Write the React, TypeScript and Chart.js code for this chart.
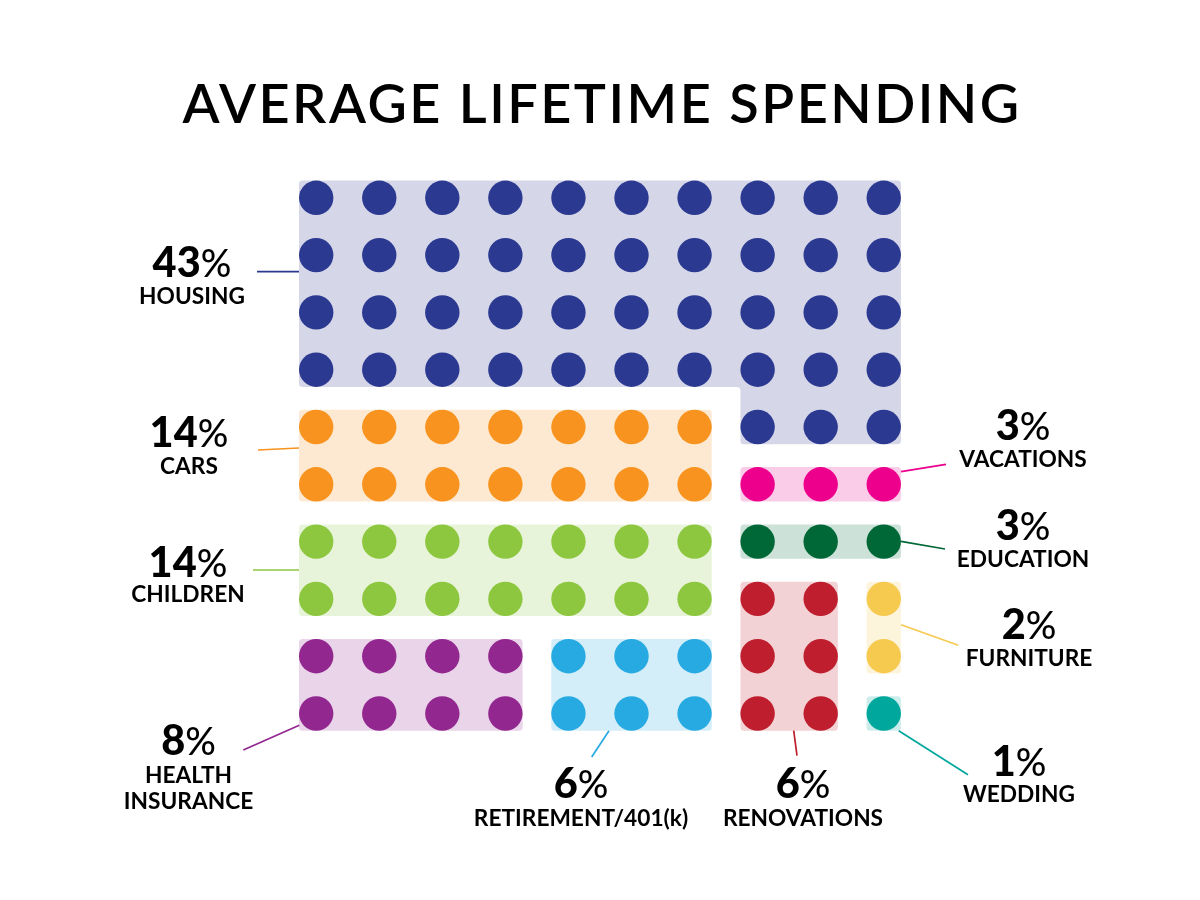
import React, { useEffect, useRef } from 'react';
import { Chart, registerables } from 'chart.js';

Chart.register(...registerables);

const chartTitle = 'AVERAGE LIFETIME SPENDING';

const categories = [
  'HOUSING',
  'CARS',
  'CHILDREN',
  'VACATIONS',
  'EDUCATION',
  'RENOVATIONS',
  'FURNITURE',
  'HEALTH INSURANCE',
  'RETIREMENT/401(k)',
  'WEDDING',
];
const shares = [43, 14, 14, 3, 3, 6, 2, 8, 6, 1];
const dotColours = [
  '#2b3990',
  '#f7931e',
  '#8dc63f',
  '#ec008c',
  '#006837',
  '#be1e2d',
  '#f6c94f',
  '#92278f',
  '#27aae1',
  '#00a79d',
];

// one row of the waffle per line, each number is an index into categories
const waffleRows = [
  [0, 0, 0, 0, 0, 0, 0, 0, 0, 0],
  [0, 0, 0, 0, 0, 0, 0, 0, 0, 0],
  [0, 0, 0, 0, 0, 0, 0, 0, 0, 0],
  [0, 0, 0, 0, 0, 0, 0, 0, 0, 0],
  [1, 1, 1, 1, 1, 1, 1, 0, 0, 0],
  [1, 1, 1, 1, 1, 1, 1, 3, 3, 3],
  [2, 2, 2, 2, 2, 2, 2, 4, 4, 4],
  [2, 2, 2, 2, 2, 2, 2, 5, 5, 6],
  [7, 7, 7, 7, 8, 8, 8, 5, 5, 6],
  [7, 7, 7, 7, 8, 8, 8, 5, 5, 9],
];

const COL0 = 316.2;
const COL_STEP = 63.06;
const ROW0 = 197.8;
const ROW_STEP = 57.3;
const DOT_R = 17.2;
const CORNER = 3.5;

const FONT = 'Lato, "Open Sans", sans-serif';

// label layout, same order as categories: centre x, baseline of the %, baselines of the name
const labelLayout = [
  { x: 192, pct: 276.5, names: [304] },
  { x: 189, pct: 447, names: [474] },
  { x: 188, pct: 576.5, names: [602] },
  { x: 1023, pct: 440, names: [466.5] },
  { x: 1023, pct: 540, names: [566.5] },
  { x: 803, pct: 798, names: [825.5] },
  { x: 1029, pct: 639, names: [665.5] },
  { x: 188.5, pct: 755, names: [782.5, 809] },
  { x: 581, pct: 798, names: [825.5] },
  { x: 1019, pct: 775.5, names: [802] },
];

// leader lines, same order as categories
const leaderLines = [
  [257, 271.7, 299, 271.7],
  [258, 450, 299, 448],
  [253, 570, 299, 570],
  [901, 471.7, 946, 464.3],
  [901, 541.3, 945, 549],
  [793.7, 730.7, 797, 755.7],
  [901, 624.7, 958.3, 645.3],
  [243.3, 750, 299.3, 725.3],
  [609, 730.7, 591.7, 757],
  [898.7, 730.7, 968, 774.7],
];

const cellsOf = (cat: number) => {
  const cells: { x: number; y: number }[] = [];
  waffleRows.forEach((row, y) =>
    row.forEach((c, x) => {
      if (c === cat) cells.push({ x, y });
    }),
  );
  return cells;
};

// column span of a category in a row, or null
const spanOf = (cat: number, r: number) => {
  const row = waffleRows[r];
  if (!row || !row.includes(cat)) return null;
  return [row.indexOf(cat), row.lastIndexOf(cat)];
};

const tilePlugin = {
  id: 'tiles',
  beforeDatasetsDraw(chart: any) {
    const { ctx, scales } = chart;
    categories.forEach((_, cat) => {
      ctx.save();
      ctx.globalAlpha = 0.2;
      ctx.fillStyle = dotColours[cat];
      ctx.beginPath();
      let r = 0;
      let joined = false;
      while (r < waffleRows.length) {
        const span = spanOf(cat, r);
        if (!span) {
          r++;
          joined = false;
          continue;
        }
        let end = r;
        while (String(spanOf(cat, end + 1)) === String(span)) end++;
        const left = scales.x.getPixelForValue(span[0]) - DOT_R;
        const right = scales.x.getPixelForValue(span[1]) + DOT_R;
        const top = scales.y.getPixelForValue(r) - DOT_R - (joined ? ROW_STEP : 0);
        const bottom = scales.y.getPixelForValue(end) + DOT_R;
        ctx.roundRect(left, top, right - left, bottom - top, CORNER);
        if (joined) {
          // rounded inner corner where the narrower block hangs off the wider one
          const y = scales.y.getPixelForValue(r - 1) + DOT_R;
          ctx.moveTo(left - CORNER, y);
          ctx.lineTo(left, y);
          ctx.lineTo(left, y + CORNER);
          ctx.arc(left - CORNER, y + CORNER, CORNER, 0, -Math.PI / 2, true);
          ctx.closePath();
        }
        joined = true;
        r = end + 1;
      }
      ctx.fill();
      ctx.restore();
    });
  },
};

const textPlugin = {
  id: 'texts',
  afterDraw(chart: any) {
    const { ctx } = chart;
    ctx.save();
    ctx.textBaseline = 'alphabetic';

    ctx.fillStyle = '#000';
    ctx.textAlign = 'center';
    ctx.font = `600 54px ${FONT}`;
    ctx.letterSpacing = '2.5px';
    ctx.fillText(chartTitle, 602, 123);
    ctx.letterSpacing = '0px';

    leaderLines.forEach(([x1, y1, x2, y2], i) => {
      ctx.strokeStyle = dotColours[i];
      ctx.lineWidth = 1.7;
      ctx.beginPath();
      ctx.moveTo(x1, y1);
      ctx.lineTo(x2, y2);
      ctx.stroke();
    });

    categories.forEach((name, i) => {
      const pos = labelLayout[i];
      const digits = String(shares[i]);
      ctx.textAlign = 'left';
      ctx.font = `900 41.5px ${FONT}`;
      const digitW = ctx.measureText(digits).width;
      ctx.font = `500 38px ${FONT}`;
      const pctW = ctx.measureText('%').width;
      const start = pos.x - (digitW + pctW) / 2;
      ctx.font = `900 41.5px ${FONT}`;
      ctx.fillText(digits, start, pos.pct);
      ctx.font = `500 38px ${FONT}`;
      ctx.fillText('%', start + digitW, pos.pct);

      ctx.textAlign = 'center';
      ctx.font = `700 22.7px ${FONT}`;
      const parts = pos.names.length > 1 ? name.split(' ') : [name];
      parts.forEach((part, k) => ctx.fillText(part, pos.x, pos.names[k]));
    });
    ctx.restore();
  },
};

const App: React.FC = () => {
  const canvasRef = useRef<HTMLCanvasElement | null>(null);

  useEffect(() => {
    const chart = new Chart(canvasRef.current, {
      type: 'scatter',
      data: {
        datasets: categories.map((label, i) => ({
          label,
          data: cellsOf(i),
          backgroundColor: dotColours[i],
          borderWidth: 0,
          pointRadius: DOT_R,
          pointHoverRadius: DOT_R,
        })),
      },
      options: {
        animation: false,
        responsive: false,
        devicePixelRatio: 1,
        events: [],
        layout: { padding: 0, autoPadding: false },
        scales: {
          x: {
            type: 'linear',
            display: false,
            min: -COL0 / COL_STEP,
            max: (1200 - COL0) / COL_STEP,
          },
          y: {
            type: 'linear',
            display: false,
            reverse: true,
            min: -ROW0 / ROW_STEP,
            max: (900 - ROW0) / ROW_STEP,
          },
        },
        plugins: {
          legend: { display: false },
          tooltip: { enabled: false },
          title: { display: false },
        },
      },
      plugins: [tilePlugin, textPlugin],
    });
    return () => chart.destroy();
  }, []);

  return (
    <div style={{ position: 'absolute', left: 0, top: 0, width: 1200, height: 900, background: '#fff' }}>
      <canvas ref={canvasRef} width={1200} height={900} style={{ display: 'block' }} />
    </div>
  );
};

export default App;
